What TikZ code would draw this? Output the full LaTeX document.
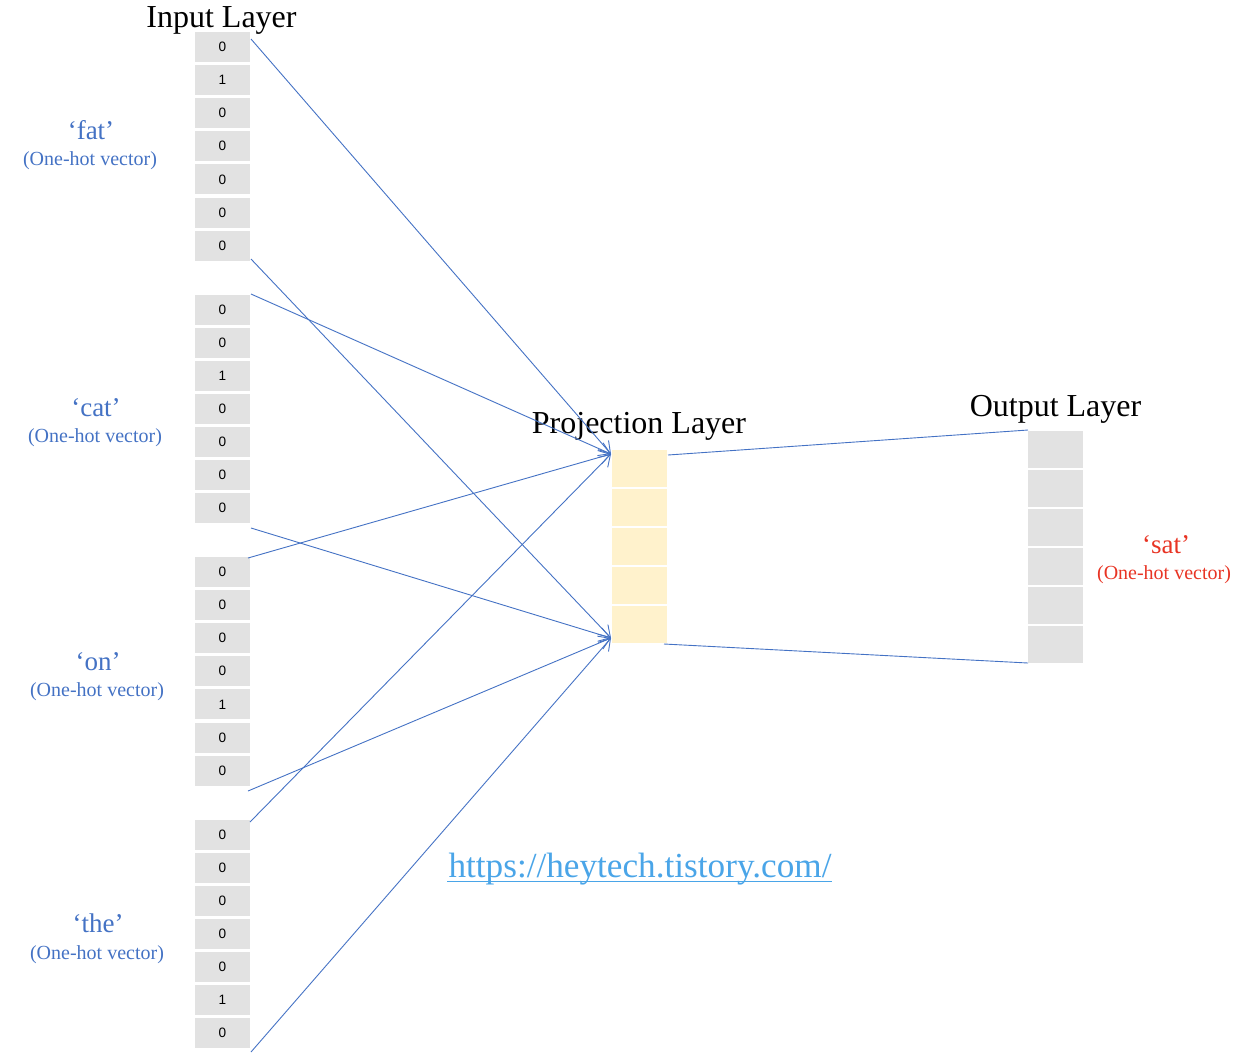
\documentclass[tikz,border=0pt]{standalone}
\usepackage{fontspec}
\setmainfont{Liberation Serif}
\newfontfamily\cellfont{Liberation Sans}
\usetikzlibrary{arrows.meta}
\definecolor{lineblue}{RGB}{68,114,196}
\definecolor{cellgray}{RGB}{226,226,226}
\definecolor{projyellow}{RGB}{255,242,204}
\definecolor{satred}{RGB}{232,52,36}
\definecolor{urlblue}{RGB}{74,165,232}
\tikzset{
  incell/.style={fill=cellgray, minimum width=27.5pt, minimum height=15pt, inner sep=0pt, font=\cellfont\fontsize{6.8}{8}\selectfont},
  projcell/.style={fill=projyellow, minimum width=27.5pt, minimum height=18.5pt, inner sep=0pt},
  outcell/.style={fill=cellgray, minimum width=27.5pt, minimum height=18.5pt, inner sep=0pt},
  layertitle/.style={anchor=base, inner sep=0pt, font=\fontsize{16}{18}\selectfont},
  wordlabel/.style={anchor=base, inner sep=0pt, text=lineblue, font=\fontsize{13.5}{15}\selectfont},
  veclabel/.style={anchor=base, inner sep=0pt, text=lineblue, font=\fontsize{10}{12}\selectfont},
  conn/.style={draw=lineblue, line width=0.45pt},
  arr/.style={conn, -{Straight Barb[length=5.5pt,width=7pt,line width=0.45pt]}},
}
\begin{document}
\begin{tikzpicture}[x=0.5pt,y=-0.5pt]
\useasboundingbox (0,0) rectangle (1258,1056);
% input cells
\foreach \b/\vals in {0/{0,1,0,0,0,0,0},1/{0,0,1,0,0,0,0},2/{0,0,0,0,1,0,0},3/{0,0,0,0,0,1,0}}{
  \foreach \v [count=\i from 0] in \vals {
    \node[incell] (c-\b-\i) at (222.5, {47+262.5*\b+33.1*\i}) {\v};
  }
}
% projection cells
\foreach \i in {0,...,4}{
  \node[projcell] (p-\i) at (639.5, {468.5+39*\i}) {};
}
% output cells
\foreach \i in {0,...,5}{
  \node[outcell] (o-\i) at (1055.5, {449+39*\i}) {};
}
% titles
\node[layertitle] (tin) at (221.5,27) {Input Layer};
\node[layertitle] (tproj) at (639,433) {Projection Layer};
\node[layertitle] (tout) at (1055.5,416) {Output Layer};
% word labels
\node[wordlabel] (wfat) at (91,139) {‘fat’};
\node[veclabel] (vfat) at (90,165) {(One-hot vector)};
\node[wordlabel] (wcat) at (96,416) {‘cat’};
\node[veclabel] (vcat) at (95,442) {(One-hot vector)};
\node[wordlabel] (won) at (98,670) {‘on’};
\node[veclabel] (von) at (97,696) {(One-hot vector)};
\node[wordlabel] (wthe) at (98,932) {‘the’};
\node[veclabel] (vthe) at (97,959) {(One-hot vector)};
\node[wordlabel, text=satred] (wsat) at (1166,553) {‘sat’};
\node[veclabel, text=satred] (vsat) at (1164,579) {(One-hot vector)};
% url
\node[anchor=base, inner sep=0pt, text=urlblue, font=\fontsize{17.6}{20}\selectfont] (url) at (640,877) {https://heytech.tistory.com/};
\draw[urlblue, line width=0.9pt] (447,881.5) -- (832,881.5);
% connector end points
\coordinate (s0t) at (251,39);
\coordinate (s0b) at (251,259);
\coordinate (s1t) at (251,294);
\coordinate (s1b) at (251,528);
\coordinate (s2t) at (248,558);
\coordinate (s2b) at (248,791);
\coordinate (s3t) at (250,822);
\coordinate (s3b) at (251,1052);
\coordinate (ptop) at (611,454);
\coordinate (pbot) at (611,638);
\coordinate (pr1) at (668,455);
\coordinate (pr2) at (664,644);
\coordinate (ot) at (1028,430);
\coordinate (ob) at (1028,663);
% connectors
\draw[arr] (s0t) -- (ptop);
\draw[arr] (s0b) -- (pbot);
\draw[arr] (s1t) -- (ptop);
\draw[arr] (s1b) -- (pbot);
\draw[arr] (s2t) -- (ptop);
\draw[arr] (s2b) -- (pbot);
\draw[arr] (s3t) -- (ptop);
\draw[arr] (s3b) -- (pbot);
\draw[conn] (pr1) -- (ot);
\draw[conn] (pr2) -- (ob);
\end{tikzpicture}
\end{document}
